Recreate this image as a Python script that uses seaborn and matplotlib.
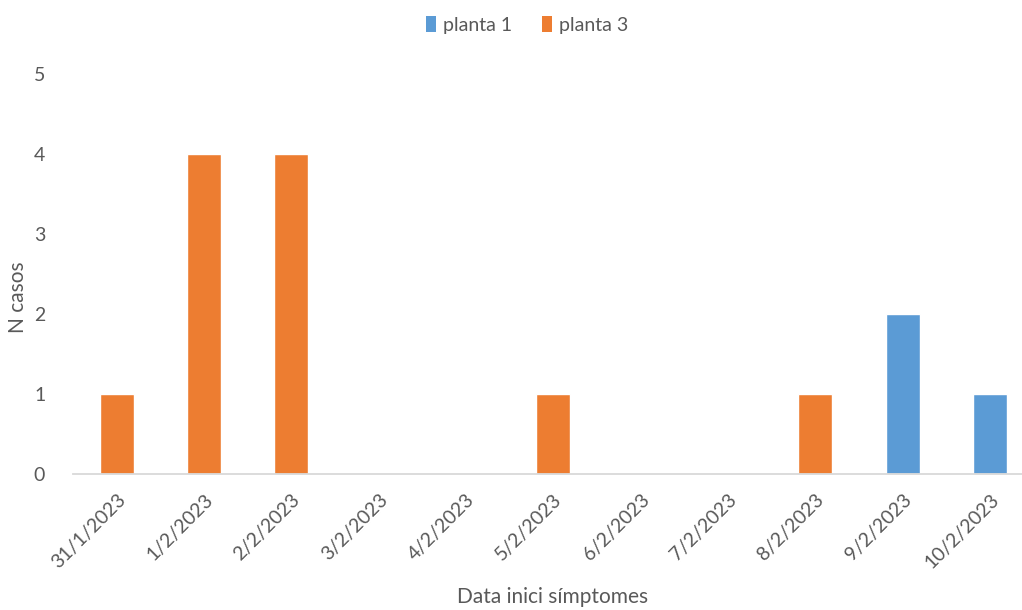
import matplotlib
matplotlib.use("Agg")
import matplotlib.pyplot as plt
from matplotlib.patches import Patch
import pandas as pd
import seaborn as sns

dates = ["31/1/2023", "1/2/2023", "2/2/2023", "3/2/2023", "4/2/2023", "5/2/2023",
         "6/2/2023", "7/2/2023", "8/2/2023", "9/2/2023", "10/2/2023"]
planta1 = [0, 0, 0, 0, 0, 0, 0, 0, 0, 2, 1]
planta3 = [1, 4, 4, 0, 0, 1, 0, 0, 1, 0, 0]
series_names = ["planta 1", "planta 3"]
colors = ["#5B9BD5", "#ED7D31"]

sns.set_theme(style="white")
plt.rcParams["font.family"] = ["Lato", "DejaVu Sans"]
text_color = "#595959"

df = pd.DataFrame({
    "data": dates * 2,
    "casos": planta1 + planta3,
    "planta": [series_names[0]] * len(dates) + [series_names[1]] * len(dates),
})

W, H = 1022, 610
fig = plt.figure(figsize=(W / 100, H / 100), dpi=100)
left, right, bottom, top = 73, 1022, 474, 74
ax = fig.add_axes([left / W, 1 - bottom / H, (right - left) / W, (bottom - top) / H])

sns.barplot(data=df, x="data", y="casos", hue="planta", order=dates,
            hue_order=series_names, palette=colors, dodge=False, width=0.39,
            saturation=1, legend=False, ax=ax)

ax.set_ylim(0, 5)
ax.set_xlim(-0.5, 10.5 - (1033.6 - 1022) / 87.3)
ax.set_yticks(range(0, 6))
for s in ["top", "right", "left"]:
    ax.spines[s].set_visible(False)
ax.spines["bottom"].set_color("#D9D9D9")
ax.spines["bottom"].set_linewidth(1.3)
ax.tick_params(axis="y", length=0, pad=20, labelsize=14, labelcolor=text_color)
ax.tick_params(axis="x", length=0, pad=12, labelsize=14, labelcolor=text_color)
plt.setp(ax.get_xticklabels(), rotation=45, ha="right", rotation_mode="anchor")

ax.set_xlabel("Data inici símptomes", fontsize=15, color=text_color, va="center")
ax.xaxis.set_label_coords((553 - left) / (right - left), -(597 - bottom) / (bottom - top))
ax.set_ylabel("N casos", fontsize=15, color=text_color, va="center")
ax.yaxis.set_label_coords(-(left - 18) / (right - left), (bottom - 297) / (bottom - top))

handles = [Patch(facecolor=c, edgecolor="none", label=n) for c, n in zip(colors, series_names)]
fig.legend(handles=handles, loc="center", bbox_to_anchor=(527 / W, 1 - 25 / H), ncol=2,
           frameon=False, fontsize=14, labelcolor=text_color, handlelength=0.55,
           handleheight=0.9, handletextpad=0.35, columnspacing=1.5)

fig.savefig("out.png", dpi=100, facecolor="white")
